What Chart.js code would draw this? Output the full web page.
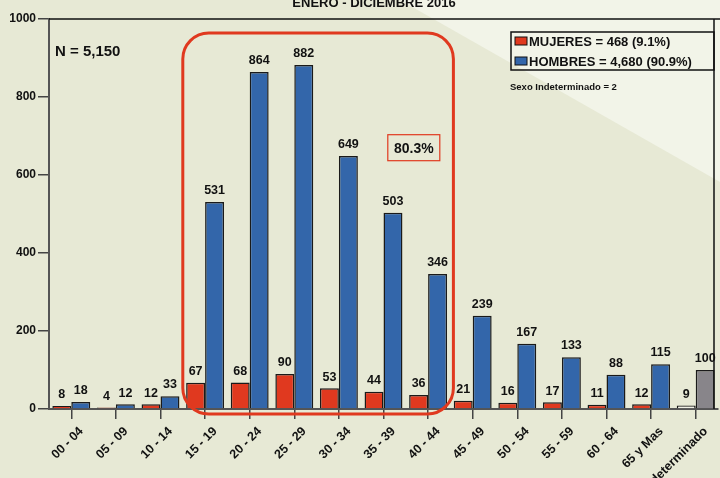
<!DOCTYPE html>
<html lang="es">
<head>
  <meta charset="UTF-8">
  <title>Casos por grupo de edad y sexo</title>
  <script src="https://cdn.jsdelivr.net/npm/chart.js"></script>
  <style>
    html, body {
      margin: 0;
      padding: 0;
      background: #e7e9d5;
    }
    .wrap {
      position: relative;
      width: 720px;
      height: 478px;
    }
  </style>
</head>
<body>
  <div class="wrap">
    <canvas id="edadChart" width="720" height="478"></canvas>
  </div>

  <script>
    // Data
    const grupos = ['00 - 04', '05 - 09', '10 - 14', '15 - 19', '20 - 24', '25 - 29', '30 - 34',
                    '35 - 39', '40 - 44', '45 - 49', '50 - 54', '55 - 59', '60 - 64', '65 y Mas', 'Indeterminado'];
    const mujeres = [8, 4, 12, 67, 68, 90, 53, 44, 36, 21, 16, 17, 11, 12, 9];
    const hombres = [18, 12, 33, 531, 864, 882, 649, 503, 346, 239, 167, 133, 88, 115, 100];
    const yTicks = [0, 200, 400, 600, 800, 1000];

    const titulo = 'ENERO - DICIEMBRE 2016';
    const totalTxt = 'N = 5,150';
    const leyendaM = 'MUJERES = 468 (9.1%)';
    const leyendaH = 'HOMBRES = 4,680 (90.9%)';
    const indetTxt = 'Sexo Indeterminado = 2';
    const pctTxt = '80.3%';

    const RED = '#e0391f';
    const BLUE = '#3366aa';
    const GRAY = '#88858a';
    const PALE = '#f1f1e6';
    const FONT = '"Liberation Sans", Arial, sans-serif';

    // last category has its own colours
    const colM = mujeres.map((v, i) => i === grupos.length - 1 ? PALE : RED);
    const colH = hombres.map((v, i) => i === grupos.length - 1 ? GRAY : BLUE);

    // background with the light diagonal wedge
    const bgPlugin = {
      id: 'bg',
      beforeDraw(chart) {
        const c = chart.ctx;
        c.save();
        c.fillStyle = '#e7e9d5';
        c.fillRect(0, 0, chart.width, chart.height);
        c.fillStyle = '#f2f4e8';
        c.beginPath();
        c.moveTo(400, 0);
        c.lineTo(chart.width, 0);
        c.lineTo(chart.width, 182);
        c.closePath();
        c.fill();
        c.restore();
      }
    };

    // values over the bars + annotations
    const extrasPlugin = {
      id: 'extras',
      afterDatasetsDraw(chart) {
        const c = chart.ctx;
        const area = chart.chartArea;
        const xs = chart.scales.x;
        const ys = chart.scales.y;
        c.save();

        // value labels
        c.font = 'bold 12.5px ' + FONT;
        c.fillStyle = '#111';
        c.textAlign = 'center';
        c.textBaseline = 'bottom';
        chart.data.datasets.forEach((ds, di) => {
          chart.getDatasetMeta(di).data.forEach((bar, i) => {
            c.fillText(String(ds.data[i]), bar.x, bar.y - 5);
          });
        });

        // frame: top and right lines
        c.strokeStyle = '#111';
        c.lineWidth = 1.5;
        c.beginPath();
        c.moveTo(area.left, area.top);
        c.lineTo(chart.width, area.top);
        c.moveTo(714, area.top);
        c.lineTo(714, area.bottom);
        c.stroke();

        // red rounded box around 15-19 .. 40-44
        const step = xs.getPixelForValue(1) - xs.getPixelForValue(0);
        const bx0 = xs.getPixelForValue(3) - step / 2;
        const bx1 = xs.getPixelForValue(8) + step / 2 + 3;
        const by0 = ys.getPixelForValue(964);
        const by1 = ys.getPixelForValue(0) + 5;
        c.strokeStyle = RED;
        c.lineWidth = 3;
        c.beginPath();
        c.roundRect(bx0, by0, bx1 - bx0, by1 - by0, 26);
        c.stroke();

        // 80.3% box
        const px = (xs.getPixelForValue(7) + xs.getPixelForValue(8)) / 2 + 8;
        const py = ys.getPixelForValue(670);
        c.lineWidth = 1.2;
        c.strokeRect(px - 26, py - 13, 52, 26);
        c.font = 'bold 14px ' + FONT;
        c.textBaseline = 'middle';
        c.fillStyle = '#111';
        c.fillText(pctTxt, px, py + 1);

        // title (cut at top)
        c.font = 'bold 13px ' + FONT;
        c.fillText(titulo, 374, 3);

        // N
        c.textAlign = 'left';
        c.font = 'bold 15px ' + FONT;
        c.fillText(totalTxt, 55, 52);

        // legend box
        c.lineWidth = 1.5;
        c.strokeStyle = '#111';
        c.strokeRect(511, 32, 203, 38);
        c.lineWidth = 1;
        c.fillStyle = RED;
        c.fillRect(515, 37, 12, 8);
        c.strokeRect(515, 37, 12, 8);
        c.fillStyle = BLUE;
        c.fillRect(515, 57, 12, 8);
        c.strokeRect(515, 57, 12, 8);
        c.fillStyle = '#111';
        c.font = 'bold 13px ' + FONT;
        c.fillText(leyendaM, 529, 42);
        c.fillText(leyendaH, 529, 62);
        c.font = 'bold 9.5px ' + FONT;
        c.fillText(indetTxt, 510, 87);

        c.restore();
      }
    };

    const ctx = document.getElementById('edadChart').getContext('2d');
    new Chart(ctx, {
      type: 'bar',
      data: {
        labels: grupos,
        datasets: [
          { label: 'Mujeres', data: mujeres, backgroundColor: colM, borderColor: '#1a1a1a', borderWidth: 1.5 },
          { label: 'Hombres', data: hombres, backgroundColor: colH, borderColor: '#1a1a1a', borderWidth: 1.5 }
        ]
      },
      options: {
        responsive: false,
        animation: false,
        devicePixelRatio: 1,
        layout: { padding: { top: 19, right: 2, left: 0, bottom: 0 } },
        datasets: { bar: { categoryPercentage: 0.85, barPercentage: 1.0 } },
        plugins: {
          legend: { display: false },
          tooltip: { enabled: false },
          title: { display: false }
        },
        scales: {
          x: {
            grid: { display: true, offset: false, drawOnChartArea: false, drawTicks: true, tickLength: 10, color: '#444', lineWidth: 1.5 },
            border: { display: true, color: '#555', width: 2 },
            ticks: {
              minRotation: 45, maxRotation: 45, autoSkip: false, padding: 5, labelOffset: 10,
              color: '#111', font: { family: FONT, size: 12.5, weight: 'bold' }
            },
            afterFit(scale) {
              scale.height = 69;
              scale.paddingLeft = 0;
              scale.paddingRight = 0;
            }
          },
          y: {
            min: 0, max: 1000,
            afterBuildTicks(scale) {
              scale.ticks = yTicks.map(v => ({ value: v }));
            },
            grid: { drawOnChartArea: false, drawTicks: true, tickLength: 11, color: '#444', lineWidth: 1.5 },
            border: { display: true, color: '#555', width: 2 },
            ticks: {
              padding: 2, color: '#111', font: { family: FONT, size: 12, weight: 'bold' },
              callback: v => String(v)
            },
            afterFit(scale) {
              scale.width = 49;
            }
          }
        }
      },
      plugins: [bgPlugin, extrasPlugin]
    });
  </script>
</body>
</html>
